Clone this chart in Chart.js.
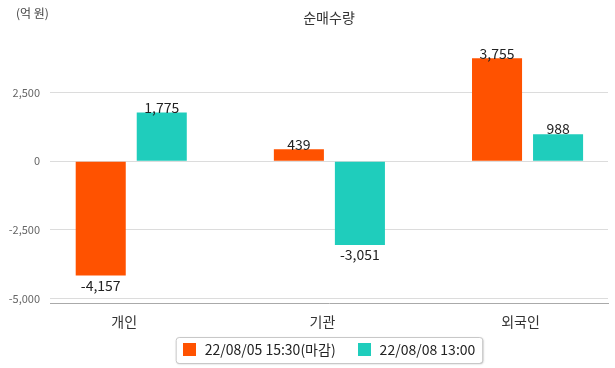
<!DOCTYPE html>
<html><head><meta charset="utf-8">
<script src="https://cdn.jsdelivr.net/npm/chart.js@4/dist/chart.umd.min.js"></script>
<style>html,body{margin:0;padding:0;background:#fff;}#wrap{width:615px;height:368px;position:relative;}</style>
</head><body><div id="wrap"><canvas id="c" width="615" height="368"></canvas></div>
<script>
const categories = ['개인', '기관', '외국인'];
const seriesNames = ['22/08/05 15:30(마감)', '22/08/08 13:00'];
const seriesA = [-4157, 439, 3755];
const seriesB = [1775, -3051, 988];
const yTicks = [-5000, -2500, 0, 2500];
const titleText = '순매수량';
const unitText = '(억 원)';
const colors = ['#FF5200', '#1FCDBC'];
const FONT = "'Noto Sans CJK KR', 'Noto Sans', sans-serif";

const fmt = v => v.toLocaleString('en-US');

const overlay = {
  id: 'overlay',
  afterDatasetsDraw(chart) {
    const ctx = chart.ctx;
    ctx.save();
    ctx.font = '14px ' + FONT;
    ctx.fillStyle = '#222';
    ctx.textAlign = 'center';
    chart.data.datasets.forEach((ds, di) => {
      const meta = chart.getDatasetMeta(di);
      meta.data.forEach((bar, i) => {
        const v = ds.data[i].y;
        if (v >= 0) { ctx.textBaseline = 'bottom'; ctx.fillText(fmt(v), bar.x, bar.y + 2); }
        else { ctx.textBaseline = 'top'; ctx.fillText(fmt(v), bar.x, bar.y + 3); }
      });
    });
    ctx.restore();
  },
  afterDraw(chart) {
    const ctx = chart.ctx;
    const ca = chart.chartArea;
    ctx.save();
    ctx.font = '14px ' + FONT;
    ctx.fillStyle = '#333';
    ctx.textAlign = 'center';
    ctx.textBaseline = 'middle';
    ctx.fillText(titleText, (ca.left + ca.right) / 2, 18);
    ctx.font = '12px ' + FONT;
    ctx.fillStyle = '#444';
    ctx.textAlign = 'left';
    ctx.fillText(unitText, 16, 13);
    ctx.font = '14px ' + FONT;
    const box = 13, gapText = 9, gapItem = 22, padX = 6;
    const widths = chart.data.datasets.map(d => box + gapText + ctx.measureText(d.label).width);
    const total = widths.reduce((a, b) => a + b, 0) + gapItem * (widths.length - 1);
    const cx = (ca.left + ca.right) / 2;
    let x = cx - total / 2;
    const cy = 350;
    const bx = x - padX - 1, bw = total + padX * 2 + 2, by = cy - 13, bh = 26;
    ctx.save();
    ctx.shadowColor = 'rgba(0,0,0,0.25)';
    ctx.shadowBlur = 2;
    ctx.shadowOffsetX = 1;
    ctx.shadowOffsetY = 1;
    ctx.fillStyle = '#fff';
    ctx.beginPath();
    ctx.roundRect(bx, by, bw, bh, 3);
    ctx.fill();
    ctx.restore();
    ctx.strokeStyle = '#c8c8c8';
    ctx.lineWidth = 1;
    ctx.beginPath();
    ctx.roundRect(bx + 0.5, by + 0.5, bw, bh, 3);
    ctx.stroke();
    chart.data.datasets.forEach((d, i) => {
      ctx.fillStyle = d.backgroundColor;
      ctx.fillRect(Math.round(x), cy - 7, box, box);
      ctx.fillStyle = '#222';
      ctx.textBaseline = 'middle';
      ctx.fillText(d.label, x + box + gapText, cy);
      x += widths[i] + gapItem;
    });
    ctx.restore();
  }
};

new Chart(document.getElementById('c'), {
  type: 'bar',
  data: {
    datasets: [
      { label: seriesNames[0], data: seriesA.map((v, i) => ({ x: i, y: v })), backgroundColor: colors[0], borderWidth: 0 },
      { label: seriesNames[1], data: seriesB.map((v, i) => ({ x: i, y: v })), backgroundColor: colors[1], borderWidth: 0 }
    ]
  },
  options: {
    responsive: false,
    animation: false,
    layout: { padding: { top: 24, right: 7, bottom: 28, left: 0 } },
    categoryPercentage: 0.616,
    barPercentage: 0.82,
    plugins: { legend: { display: false }, title: { display: false }, tooltip: { enabled: false } },
    scales: {
      x: {
        type: 'linear',
        min: -0.41,
        max: 2.406,
        offset: false,
        afterBuildTicks: s => { s.ticks = categories.map((c, i) => ({ value: i })); },
        ticks: {
          callback: v => categories[v],
          font: { family: FONT, size: 14 },
          color: '#333',
          padding: 10,
          labelOffset: -7,
          maxRotation: 0,
          autoSkip: false
        },
        grid: { display: false, drawTicks: false },
        border: { display: true, color: '#aaa', width: 1 }
      },
      y: {
        min: -5167,
        max: 5000,
        afterBuildTicks: s => { s.ticks = yTicks.map(v => ({ value: v })); },
        afterFit: s => { s.width = 50; },
        ticks: {
          callback: v => fmt(v),
          font: { family: FONT, size: 11 },
          color: '#666',
          padding: 10
        },
        grid: { color: '#dcdcdc', drawTicks: false },
        border: { display: false }
      }
    }
  },
  plugins: [overlay]
});
</script>
</body></html>
